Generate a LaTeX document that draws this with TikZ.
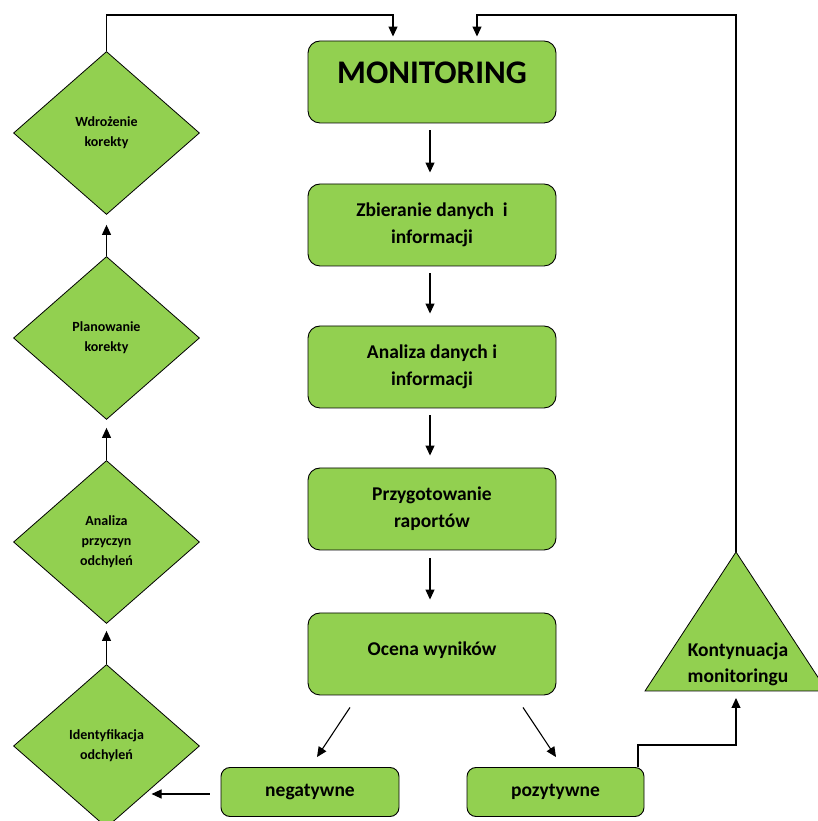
\documentclass[tikz,border=0pt]{standalone}
\usepackage{fontspec}
\setmainfont{Carlito}
\usetikzlibrary{shapes.geometric,arrows.meta,calc}
\definecolor{lgreen}{HTML}{92D050}
\begin{document}
\begin{tikzpicture}[x=1pt,y=1pt,
  box/.style={draw=black,line width=0.9pt,fill=lgreen,rounded corners=12pt,
    minimum width=248pt,minimum height=82pt,inner sep=0pt,align=center,
    font=\bfseries\fontsize{19.5}{27}\selectfont},
  smallbox/.style={box,minimum width=178pt,minimum height=49pt,rounded corners=9pt},
  dia/.style={draw=black,line width=0.8pt,fill=lgreen,shape=diamond,
    minimum width=186pt,minimum height=163pt,inner sep=0pt,align=center,
    font=\bfseries\fontsize{14}{20}\selectfont},
  arr/.style={draw=black,line width=1.1pt,-{Triangle[length=10pt,width=9pt]}},
  ln/.style={draw=black,line width=1.1pt}]
\useasboundingbox (0,0) rectangle (818,821);
% central boxes
\node[box] (mon) at (432,739) {};
\node[font=\bfseries\fontsize{33}{34}\selectfont] (montxt) at (432,748) {MONITORING};
\node[box] (zb) at (432,596) {Zbieranie danych\ \ i\\informacji};
\node[box] (an) at (432,454) {Analiza danych i\\informacji};
\node[box] (pr) at (432,312) {Przygotowanie\\raportów};
\node[box] (oc) at (432,167) {};
\node[font=\bfseries\fontsize{19.5}{27}\selectfont] (octxt) at (432,171) {Ocena wyników};
\node[smallbox] (neg) at (310,29) {negatywne};
\node[smallbox,minimum width=177pt] (poz) at (555.5,29) {pozytywne};
% diamonds
\node[dia] (wd) at (106.5,688) {Wdrożenie\\korekty};
\node[dia] (pl) at (106.5,483) {Planowanie\\korekty};
\node[dia] (ap) at (106.5,279) {Analiza\\przyczyn\\odchyleń};
\node[dia] (id) at (106.5,75) {Identyfikacja\\odchyleń};
% triangle
\coordinate (triApex) at (736,269);
\coordinate (triBase) at (736,130);
\fill[lgreen,draw=black,line width=0.8pt] (triApex) -- (827,130) -- (645,130) -- cycle;
\node[font=\bfseries\fontsize{19.5}{26}\selectfont,align=center] (tri) at (738,157) {Kontynuacja\\monitoringu};
% vertical flow
\draw[arr] ([xshift=-2pt,yshift=-7pt]mon.south) -- ([xshift=-2pt,yshift=11pt]zb.north);
\draw[arr] ([xshift=-2pt,yshift=-7pt]zb.south) -- ([xshift=-2pt,yshift=12pt]an.north);
\draw[arr] ([xshift=-2pt,yshift=-7pt]an.south) -- ([xshift=-2pt,yshift=12pt]pr.north);
\draw[arr] ([xshift=-2pt,yshift=-8pt]pr.south) -- ([xshift=-2pt,yshift=13pt]oc.north);
% evaluation branches
\draw[arr] ([xshift=-82pt,yshift=-12pt]oc.south) -- ([xshift=7pt,yshift=10pt]neg.north);
\draw[arr] ([xshift=91pt,yshift=-12pt]oc.south) -- ([xshift=0.5pt,yshift=10pt]poz.north);
\draw[arr] ([xshift=-11pt,yshift=-2pt]neg.west) -- ([xshift=-69pt,yshift=-2pt]neg.west);
% left column
\draw[arr] (id.north) -- ([yshift=-7pt]ap.south);
\draw[arr] (ap.north) -- ([yshift=-8pt]pl.south);
\draw[arr] (pl.north) -- ([yshift=-10pt]wd.south);
\coordinate (topL) at (106.5,806);
\draw[arr] (wd.north) -- (topL) -| ([xshift=-39pt,yshift=4pt]mon.north);
% right loop
\draw[arr] ([xshift=82.5pt]poz.north) -- ++(0,22) -| ([yshift=-7pt]triBase);
\coordinate (topR) at (736,806);
\draw[arr] (triApex) -- (topR) -| ([xshift=45pt,yshift=4pt]mon.north);
\end{tikzpicture}
\end{document}
